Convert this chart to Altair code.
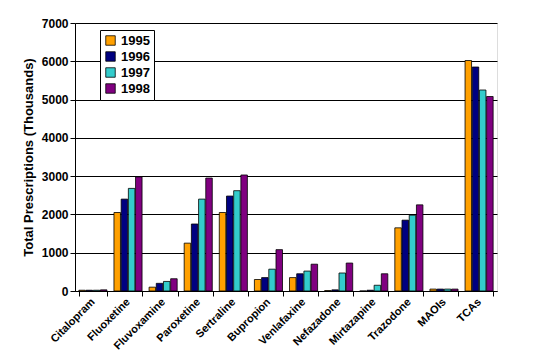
import altair as alt
import pandas as pd

drugs = ["Citalopram", "Fluoxetine", "Fluvoxamine", "Paroxetine", "Sertraline", "Bupropion",
         "Venlafaxine", "Nefazadone", "Mirtazapine", "Trazodone", "MAOIs", "TCAs"]
years = ["1995", "1996", "1997", "1998"]
v1995 = [20, 2050, 100, 1250, 2050, 300, 350, 10, 0, 1650, 50, 6020]
v1996 = [20, 2400, 200, 1750, 2480, 350, 450, 30, 20, 1850, 50, 5850]
v1997 = [20, 2680, 250, 2400, 2620, 570, 520, 470, 150, 1980, 50, 5250]
v1998 = [30, 2980, 320, 2950, 3030, 1080, 700, 730, 450, 2250, 50, 5080]
colors = ["#FFA000", "#000080", "#33CCCC", "#800080"]

rows = []
for yr, vals in zip(years, [v1995, v1996, v1997, v1998]):
    for d, v in zip(drugs, vals):
        rows.append({"Drug": d, "Year": yr, "Value": v})
df = pd.DataFrame(rows)

font = "Liberation Sans"

chart = alt.Chart(df).mark_bar(stroke="black", strokeWidth=0.8, width=6.5).encode(
    x=alt.X("Drug:N", sort=drugs, title=None,
            scale=alt.Scale(paddingInner=0.18, paddingOuter=0.1),
            axis=alt.Axis(labelAngle=-45, labelAlign="right", labelBaseline="middle",
                          labelFont=font, labelFontWeight="bold", labelFontSize=11,
                          labelColor="black", domainColor="black", tickColor="black",
                          tickBand="extent", tickSize=5, labelPadding=4)),
    xOffset=alt.XOffset("Year:N", sort=years),
    y=alt.Y("Value:Q", title="Total Prescriptions (Thousands)",
            scale=alt.Scale(domain=[0, 7000]),
            axis=alt.Axis(values=[0, 1000, 2000, 3000, 4000, 5000, 6000, 7000],
                          format="d", labelFont=font, labelFontWeight="bold",
                          labelFontSize=12, labelColor="black", domainColor="black",
                          tickColor="black", gridColor="black", gridOpacity=1,
                          titleFont=font, titleFontWeight="bold", titleFontSize=13,
                          titleColor="black", titlePadding=6)),
    color=alt.Color("Year:N", sort=years,
                    scale=alt.Scale(domain=years, range=colors),
                    legend=alt.Legend(title=None, orient="none", legendX=25, legendY=7,
                                      symbolType="square", symbolSize=90,
                                      symbolStrokeColor="black", symbolStrokeWidth=0.8,
                                      labelFont=font, labelFontWeight="bold",
                                      labelFontSize=13, labelColor="black",
                                      strokeColor="black", fillColor="white",
                                      padding=4, rowPadding=2)),
).properties(
    width=422, height=268,
    autosize=alt.AutoSizeParams(type="none"),
    padding={"left": 67, "top": 15, "right": 10, "bottom": 60},
).configure_view(stroke="#888888").configure(background="white")

chart.save("out.html", embed_options={"renderer": "svg", "actions": False})
